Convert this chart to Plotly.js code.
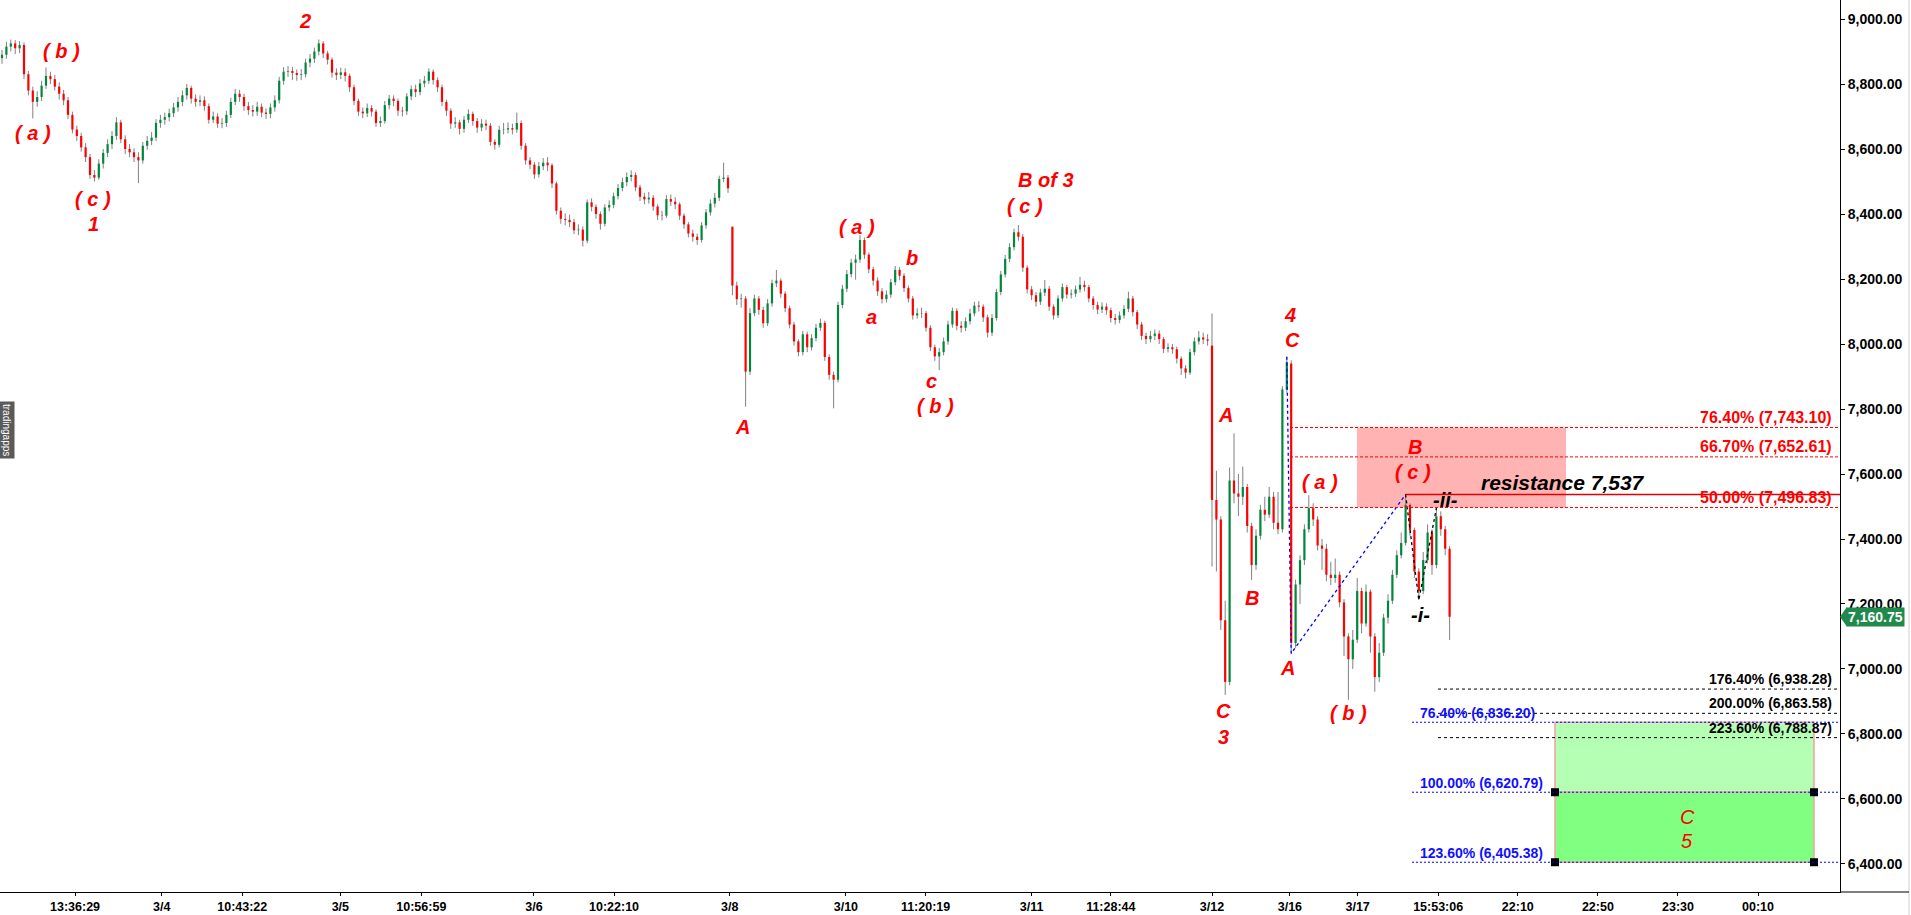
<!DOCTYPE html>
<html><head><meta charset="utf-8">
<script src="https://cdn.plot.ly/plotly-3.0.1.min.js"></script>
<style>html,body{margin:0;padding:0;background:#fff}#chart{width:1911px;height:915px}</style>
</head><body><div id="chart"></div>
<script>
// ---------------- DATA ----------------
const opens=[
8880,8890,8915,8925,8910,8920,8830,8780,8745,8760,
8795,8825,8815,8792,8770,8750,8705,8660,8640,8605,
8575,8520,8512,8555,8588,8615,8640,8682,8630,8600,
8590,8575,8565,8610,8625,8635,8680,8690,8698,8710,
8728,8745,8765,8788,8755,8745,8750,8732,8690,8700,
8678,8680,8705,8745,8770,8760,8732,8720,8715,8730,
8712,8708,8728,8750,8810,8838,8840,8834,8828,8830,
8866,8878,8900,8925,8894,8875,8835,8828,8836,8825,
8790,8748,8715,8710,8726,8715,8680,8686,8735,8755,
8748,8718,8716,8762,8784,8775,8802,8810,8838,8812,
8790,8745,8718,8678,8682,8662,8690,8708,8686,8666,
8678,8672,8622,8613,8659,8660,8664,8660,8680,8610,
8565,8552,8522,8547,8558,8550,8494,8410,8385,8382,
8375,8350,8352,8318,8436,8422,8400,8370,8420,8428,
8455,8480,8498,8514,8520,8482,8453,8445,8450,8423,
8396,8395,8446,8438,8430,8395,8368,8340,8330,8320,
8365,8405,8432,8450,8508,8512,8361,8180,8138,8140,
7915,8095,8140,8105,8064,8125,8187,8195,8155,8110,
8060,8008,7975,8030,7990,8018,8050,8065,7960,7905,
7890,8120,8170,8215,8250,8260,8320,8275,8230,8195,
8162,8138,8152,8190,8228,8210,8172,8140,8088,8094,
8095,8050,7990,7962,7975,8008,8060,8102,8056,8050,
8070,8094,8118,8115,8082,8035,8080,8160,8214,8262,
8298,8344,8330,8235,8168,8150,8130,8158,8170,8115,
8088,8140,8175,8152,8155,8168,8182,8175,8140,8120,
8106,8115,8104,8080,8074,8088,8108,8140,8098,8060,
8025,8015,8025,8032,8015,7985,7990,7984,7955,7925,
7912,7975,8008,8020,8014,7995,7520,7460,7150,6960,
7580,7540,7530,7560,7440,7320,7410,7490,7475,7530,
7450,7430,7860,7940,7080,7260,7335,7430,7495,7460,
7380,7370,7290,7280,7290,7205,7100,7030,7090,7240,
7140,7238,7100,6975,7050,7158,7210,7290,7350,7388,
7505,7428,7300,7240,7335,7420,7320,7470,7430,7370];
const highs=[
8905,8930,8937,8935,8932,8928,8840,8792,8778,8810,
8851,8838,8828,8805,8782,8760,8715,8672,8650,8618,
8585,8535,8568,8600,8630,8655,8698,8690,8642,8615,
8602,8590,8622,8640,8652,8692,8705,8712,8724,8742,
8760,8780,8800,8795,8768,8765,8762,8740,8715,8710,
8695,8718,8758,8785,8782,8770,8745,8735,8745,8740,
8725,8740,8765,8822,8852,8855,8852,8845,8846,8878,
8892,8912,8937,8932,8902,8882,8848,8850,8848,8832,
8798,8755,8728,8740,8735,8722,8700,8748,8766,8765,
8755,8730,8772,8795,8798,8815,8825,8848,8845,8820,
8798,8752,8725,8698,8690,8702,8722,8715,8695,8692,
8690,8680,8630,8672,8680,8682,8678,8712,8688,8618,
8575,8560,8560,8572,8575,8556,8500,8420,8402,8398,
8385,8368,8362,8445,8448,8430,8408,8430,8442,8466,
8492,8512,8528,8534,8528,8490,8465,8468,8458,8430,
8410,8458,8460,8452,8436,8402,8375,8352,8340,8375,
8415,8445,8465,8518,8558,8520,8361,8192,8155,8148,
8110,8152,8148,8115,8138,8198,8228,8202,8162,8118,
8068,8015,8040,8038,8030,8062,8078,8072,7968,7915,
8130,8182,8228,8262,8275,8335,8328,8282,8238,8205,
8172,8165,8200,8240,8236,8218,8180,8148,8110,8112,
8102,8058,7998,7988,8020,8072,8112,8110,8070,8082,
8108,8130,8132,8122,8090,8092,8170,8225,8274,8310,
8355,8366,8338,8242,8178,8160,8170,8197,8178,8122,
8150,8186,8182,8168,8180,8207,8195,8182,8148,8130,
8128,8125,8112,8092,8100,8120,8161,8148,8105,8068,
8035,8040,8045,8042,8022,8002,8000,7992,7962,7935,
7985,8020,8040,8035,8030,8094,7610,7470,7210,7620,
7725,7600,7623,7570,7450,7430,7505,7530,7560,7545,
7545,7870,7961,7950,7275,7350,7445,7535,7510,7470,
7400,7385,7330,7340,7300,7215,7110,7120,7280,7250,
7260,7245,7110,7080,7170,7230,7305,7365,7420,7537,
7510,7435,7310,7360,7445,7430,7495,7485,7440,7378];
const lows=[
8862,8878,8900,8892,8895,8815,8765,8694,8730,8748,
8785,8800,8780,8752,8735,8692,8648,8625,8592,8560,
8508,8500,8505,8540,8575,8600,8628,8618,8585,8575,
8560,8495,8555,8598,8612,8625,8665,8675,8685,8698,
8715,8732,8752,8740,8730,8732,8718,8678,8680,8665,
8664,8668,8695,8735,8745,8718,8705,8700,8702,8698,
8692,8695,8715,8740,8798,8822,8812,8810,8812,8820,
8852,8865,8888,8880,8860,8820,8812,8815,8808,8776,
8735,8702,8695,8698,8700,8668,8668,8678,8722,8732,
8702,8700,8705,8750,8760,8765,8790,8800,8798,8775,
8732,8702,8662,8665,8645,8650,8680,8672,8650,8655,
8658,8610,8598,8605,8645,8648,8645,8650,8598,8552,
8538,8508,8512,8535,8532,8480,8398,8370,8365,8360,
8338,8335,8300,8310,8408,8385,8352,8362,8408,8418,
8445,8470,8485,8500,8470,8440,8430,8432,8410,8382,
8380,8388,8425,8415,8382,8355,8328,8315,8305,8312,
8355,8395,8420,8440,8498,8465,8150,8120,8112,7807,
7905,8085,8090,8050,8055,8115,8175,8142,8098,8048,
7995,7962,7965,7975,7980,8008,8040,7948,7890,7802,
7882,8110,8160,8205,8198,8250,8262,8218,8180,8148,
8125,8128,8142,8180,8196,8160,8128,8075,8078,8080,
8038,7978,7948,7920,7965,7998,8050,8042,8035,8040,
8060,8085,8100,8068,8020,8025,8072,8150,8205,8252,
8288,8318,8222,8155,8135,8115,8120,8148,8102,8075,
8080,8130,8140,8140,8145,8158,8162,8128,8106,8092,
8095,8090,8066,8060,8064,8078,8098,8085,8046,8012,
8000,8005,8012,8000,7972,7974,7970,7940,7905,7894,
7905,7965,7998,8000,7995,7315,7300,7120,6920,6950,
7510,7470,7505,7420,7274,7305,7398,7455,7465,7430,
7415,7420,7850,7048,7065,7200,7320,7420,7440,7365,
7305,7270,7258,7265,7190,7040,6905,7000,7080,7110,
7130,7050,6930,6960,7040,7140,7200,7280,7340,7380,
7410,7280,7212,7230,7325,7290,7310,7410,7350,7089];
const closes=[
8890,8915,8925,8910,8920,8830,8780,8745,8760,8795,
8825,8815,8792,8770,8750,8705,8660,8640,8605,8575,
8520,8512,8555,8588,8615,8640,8682,8630,8600,8590,
8575,8565,8610,8625,8635,8680,8690,8698,8710,8728,
8745,8765,8788,8755,8745,8750,8732,8690,8700,8678,
8680,8705,8745,8770,8760,8732,8720,8715,8730,8712,
8708,8728,8750,8810,8838,8840,8834,8828,8830,8866,
8878,8900,8925,8894,8875,8835,8828,8836,8825,8790,
8748,8715,8710,8726,8715,8680,8686,8735,8755,8748,
8718,8716,8762,8784,8775,8802,8810,8838,8812,8790,
8745,8718,8678,8682,8662,8690,8708,8686,8666,8678,
8672,8622,8613,8659,8660,8664,8660,8680,8610,8565,
8552,8522,8547,8558,8550,8494,8410,8385,8382,8375,
8350,8352,8318,8436,8422,8400,8370,8420,8428,8455,
8480,8498,8514,8520,8482,8453,8445,8450,8423,8396,
8395,8446,8438,8430,8395,8368,8340,8330,8320,8365,
8405,8432,8450,8508,8512,8479,8180,8138,8140,7915,
8095,8140,8105,8064,8125,8187,8195,8155,8110,8060,
8008,7975,8030,7990,8018,8050,8065,7960,7905,7890,
8120,8170,8215,8250,8260,8320,8275,8230,8195,8162,
8138,8152,8190,8228,8210,8172,8140,8088,8094,8095,
8050,7990,7962,7975,8008,8060,8102,8056,8050,8070,
8094,8118,8115,8082,8035,8080,8160,8214,8262,8298,
8344,8330,8235,8168,8150,8130,8158,8170,8115,8088,
8140,8175,8152,8155,8168,8182,8175,8140,8120,8106,
8115,8104,8080,8074,8088,8108,8140,8098,8060,8025,
8015,8025,8032,8015,7985,7990,7984,7955,7925,7912,
7975,8008,8020,8014,8010,7520,7460,7150,6960,7580,
7540,7530,7560,7440,7320,7410,7490,7475,7530,7450,
7430,7860,7945,7080,7260,7335,7430,7495,7460,7380,
7370,7290,7280,7290,7205,7100,7030,7090,7240,7140,
7238,7100,6975,7050,7158,7210,7290,7350,7388,7505,
7428,7300,7240,7335,7420,7320,7470,7430,7370,7160.75];

const xTickLabels=['13:36:29','3/4','10:43:22','3/5','10:56:59','3/6','10:22:10','3/8','3/10','11:20:19',
 '3/11','11:28:44','3/12','3/16','3/17','15:53:06','22:10','22:50','23:30','00:10'];
const xTickSlots=[16.6,36.3,54.6,76.9,95.3,120.9,139.1,165.4,191.8,209.9,
 234.0,252.0,275.0,292.7,308.1,326.4,344.5,362.7,380.9,399.1];
const yTicks=[6400,6600,6800,7000,7200,7400,7600,7800,8000,8200,8400,8600,8800,9000];

const fibRedLevels=[7743.10,7652.61,7496.83];
const fibRedPct=['76.40%','66.70%','50.00%'];
const resistance=7537;
const fibBlackLevels=[6938.28,6863.58,6788.87];
const fibBlackPct=['176.40%','200.00%','223.60%'];
const fibBlueLevels=[6836.20,6620.79,6405.38];
const fibBluePct=['76.40%','100.00%','123.60%'];
const lastPrice=7160.75;

// ---------------- LAYOUT HELPERS ----------------
const W=1840, H=892;               // plot area in pixels
const slot = px => (px-2)/4.4;     // pixel -> candle slot (layout only)
const PX = px => px/W, PY = py => 1-py/H;
const xMin=slot(0), xMax=slot(W);
const fmt = v => v.toLocaleString('en-US',{minimumFractionDigits:2,maximumFractionDigits:2});
const FONT='Arial, "Liberation Sans", sans-serif';

// ---------------- TRACES ----------------
const N=closes.length;
const wx=[],wy=[],ux=[],uy=[],dx=[],dy=[];
for(let i=0;i<N;i++){
  wx.push(i,i,null); wy.push(lows[i],highs[i],null);
  if(closes[i]>=opens[i]){ux.push(i,i,null);uy.push(opens[i],closes[i]===opens[i]?opens[i]+3:closes[i],null);}
  else {dx.push(i,i,null);dy.push(opens[i],closes[i],null);}
}
const traces=[
 {x:wx,y:wy,mode:'lines',line:{color:'#808080',width:1},hoverinfo:'skip'},
 {x:ux,y:uy,mode:'lines',line:{color:'#00873c',width:2.2},hoverinfo:'skip'},
 {x:dx,y:dy,mode:'lines',line:{color:'#ff0000',width:2.2},hoverinfo:'skip'},
 {x:[292,293,319],y:[highs[292],lows[293],highs[319]],mode:'lines',line:{color:'#0000ff',width:1.3,dash:'dot'},hoverinfo:'skip'},
 {x:[319,322,326],y:[highs[319],lows[322],highs[326]],mode:'lines',line:{color:'#000',width:1.3,dash:'dot'},hoverinfo:'skip'},
 {x:[slot(1555),slot(1814),slot(1555),slot(1814)],y:[fibBlueLevels[1],fibBlueLevels[1],fibBlueLevels[2],fibBlueLevels[2]],
  mode:'markers',marker:{symbol:'square',size:8,color:'#000'},hoverinfo:'skip',cliponaxis:false}
];

// ---------------- SHAPES ----------------
const shapes=[];
shapes.push({type:'rect',xref:'x',yref:'y',x0:slot(1357),x1:slot(1566),y0:fibRedLevels[2],y1:fibRedLevels[0],
  fillcolor:'#ffb3b3',line:{width:0},layer:'below'});
shapes.push({type:'rect',xref:'x',yref:'y',x0:slot(1555),x1:slot(1814),y0:fibBlueLevels[1],y1:fibBlueLevels[0],
  fillcolor:'#b5ffb5',line:{color:'#f2a0a0',width:1.5},layer:'below'});
shapes.push({type:'rect',xref:'x',yref:'y',x0:slot(1555),x1:slot(1814),y0:fibBlueLevels[2],y1:fibBlueLevels[1],
  fillcolor:'#80ff80',line:{color:'#f2a0a0',width:1.5},layer:'below'});
fibRedLevels.forEach(v=>shapes.push({type:'line',xref:'x',yref:'y',x0:slot(1290),x1:xMax,y0:v,y1:v,line:{color:'#ff0000',width:1,dash:'3px,2px'}}));
shapes.push({type:'line',xref:'x',yref:'y',x0:319,x1:xMax,y0:resistance,y1:resistance,line:{color:'#e00000',width:1.5}});
fibBlackLevels.forEach(v=>shapes.push({type:'line',xref:'x',yref:'y',x0:slot(1438),x1:xMax,y0:v,y1:v,line:{color:'#000',width:1,dash:'3px,3px'}}));
fibBlueLevels.forEach(v=>shapes.push({type:'line',xref:'x',yref:'y',x0:slot(1412),x1:xMax,y0:v,y1:v,line:{color:'#0000ff',width:1,dash:'2px,2px'}}));
// price tag arrow
shapes.push({type:'path',xref:'paper',yref:'y',path:`M ${PX(1840)},${lastPrice} L ${PX(1847)},${lastPrice+31} L ${PX(1847)},${lastPrice-31} Z`,
  fillcolor:'#1f8a4c',line:{width:0}});
// right border and extended baseline
shapes.push({type:'line',xref:'paper',yref:'paper',x0:PX(1909),x1:PX(1909),y0:PY(915),y1:1,line:{color:'#d0d0d0',width:1}});
shapes.push({type:'line',xref:'paper',yref:'paper',x0:1,x1:PX(1909),y0:0,y1:0,line:{color:'#000',width:1}});

// ---------------- ANNOTATIONS ----------------
const ann=[];
const waveLabels=[
 ['( a )',33,133],['( b )',61,51],['( c )',93,199],['1',93,224],['2',305,21],
 ['A',742,427],['( a )',857,227],['a',871,317],['b',912,258],['c',932,381],['( b )',935,406],
 ['B of 3',1046,180],['( c )',1025,206],
 ['A',1225,415],['B',1252,598],['C',1223,711],['3',1223,737],
 ['4',1290,315],['C',1292,340],['A',1287,668],['( a )',1320,482],['( b )',1348,713],
 ['B',1415,447],['( c )',1413,472]
];
waveLabels.forEach(([t,x,y])=>ann.push({text:'<b><i>'+t+'</i></b>',xref:'paper',yref:'paper',x:PX(x),y:PY(y),
  xanchor:'center',yanchor:'middle',showarrow:false,font:{family:FONT,size:20,color:'#ff0000'}}));
[['C',1687,817],['5',1687,841]].forEach(([t,x,y])=>ann.push({text:'<i>'+t+'</i>',xref:'paper',yref:'paper',x:PX(x),y:PY(y),
  xanchor:'center',yanchor:'middle',showarrow:false,font:{family:FONT,size:20,color:'#ff0000'}}));
[['-ii-',1445,500],['-i-',1420,615]].forEach(([t,x,y])=>ann.push({text:'<b><i>'+t+'</i></b>',xref:'paper',yref:'paper',x:PX(x),y:PY(y),
  xanchor:'center',yanchor:'middle',showarrow:false,font:{family:FONT,size:20,color:'#000'}}));
ann.push({text:'<b><i>resistance '+resistance.toLocaleString('en-US')+'</i></b>',xref:'paper',yref:'paper',x:PX(1563),y:PY(482),
  xanchor:'center',yanchor:'middle',showarrow:false,font:{family:FONT,size:21,color:'#000'}});
const redLabelY=[417,446,497];
fibRedLevels.forEach((v,k)=>ann.push({text:'<b>'+fibRedPct[k]+' ('+fmt(v)+')</b>',xref:'paper',yref:'paper',x:PX(1834),y:PY(redLabelY[k]),
  xanchor:'right',yanchor:'middle',showarrow:false,font:{family:FONT,size:16,color:'#ff0000'}}));
const blackLabelY=[679,703,728];
fibBlackLevels.forEach((v,k)=>ann.push({text:'<b>'+fibBlackPct[k]+' ('+fmt(v)+')</b>',xref:'paper',yref:'paper',x:PX(1834),y:PY(blackLabelY[k]),
  xanchor:'right',yanchor:'middle',showarrow:false,font:{family:FONT,size:14,color:'#000'}}));
const blueLabelY=[713,783,853];
fibBlueLevels.forEach((v,k)=>ann.push({text:'<b>'+fibBluePct[k]+' ('+fmt(v)+')</b>',xref:'paper',yref:'paper',x:PX(1418),y:PY(blueLabelY[k]),
  xanchor:'left',yanchor:'middle',showarrow:false,font:{family:FONT,size:14,color:'#1010ff'}}));
ann.push({text:'<b>'+fmt(lastPrice)+'</b>',xref:'paper',yref:'y',x:PX(1846),y:lastPrice,xanchor:'left',yanchor:'middle',
  showarrow:false,bgcolor:'#1f8a4c',borderpad:1,font:{family:FONT,size:14,color:'#fff'}});
ann.push({text:'tradingapps',xref:'paper',yref:'paper',x:PX(6),y:PY(430),textangle:90,xanchor:'center',yanchor:'middle',
  showarrow:false,bgcolor:'#5a5a5a',borderpad:2,font:{family:FONT,size:10,color:'#fff'}});

const layout={
  width:1911,height:915,margin:{l:0,r:71,t:0,b:23,pad:0},
  paper_bgcolor:'#fff',plot_bgcolor:'#fff',showlegend:false,
  xaxis:{range:[xMin,xMax],tickmode:'array',tickvals:xTickSlots,ticktext:xTickLabels,ticks:'outside',ticklen:3,tickcolor:'#000',
    showgrid:false,zeroline:false,showline:true,linecolor:'#000',linewidth:1,
    tickfont:{family:FONT,size:12.5,color:'#000',weight:'bold'},fixedrange:true},
  yaxis:{side:'right',range:[6313.8,9058.5],tickmode:'array',tickvals:yTicks,ticktext:yTicks.map(fmt),ticks:'outside',ticklen:4,tickcolor:'#000',
    showgrid:false,zeroline:false,showline:true,linecolor:'#000',linewidth:1,
    tickfont:{family:FONT,size:14,color:'#000',weight:'bold'},fixedrange:true},
  shapes:shapes,annotations:ann
};
Plotly.newPlot('chart',traces,layout,{displayModeBar:false,staticPlot:true});
</script></body></html>
